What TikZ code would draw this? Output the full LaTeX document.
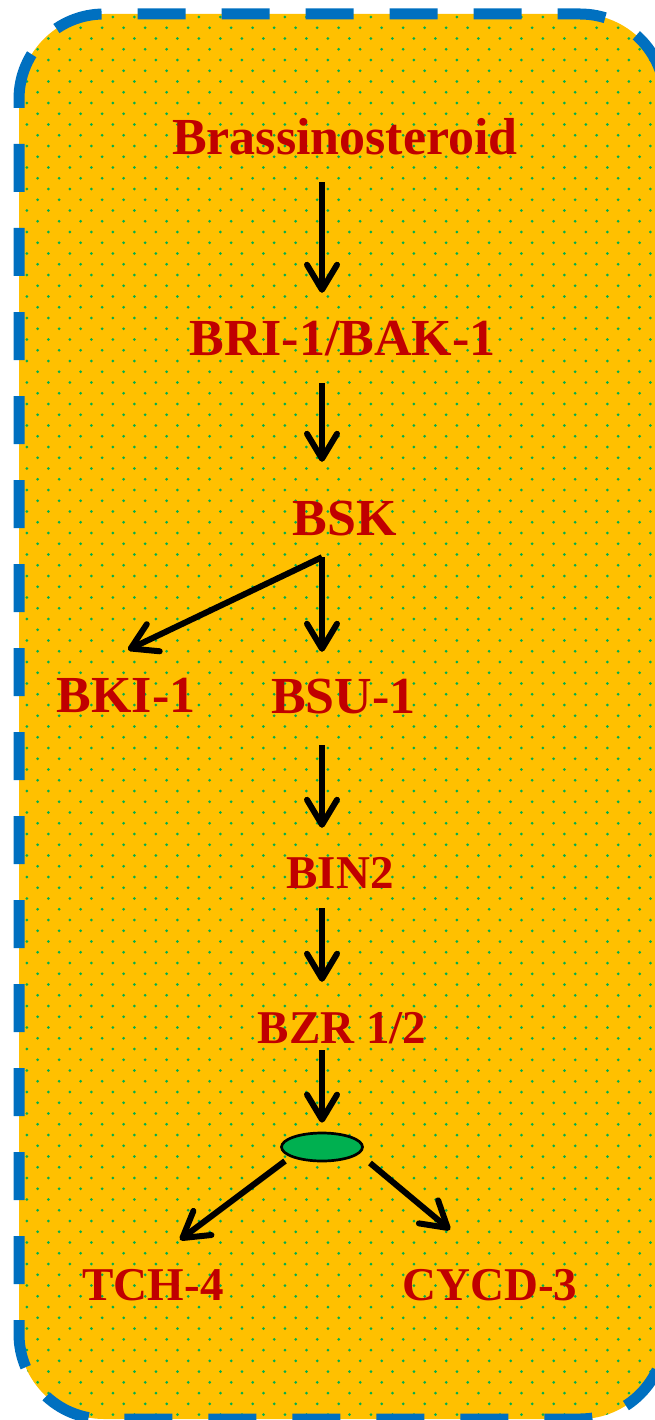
\documentclass[tikz,border=0pt]{standalone}
\usepackage{fontspec}
\setmainfont{Liberation Serif}
\usetikzlibrary{arrows.meta,calc,patterns,shapes.geometric}

\definecolor{panelyellow}{HTML}{FFC000}
\definecolor{dotgreen}{HTML}{00B050}
\definecolor{edgeblue}{HTML}{0070C0}
\definecolor{labelred}{HTML}{C00000}
\definecolor{nucleusgreen}{HTML}{00B050}

% staggered grid of small dots
\pgfdeclarepatternformonly{greendots}{\pgfpoint{-2pt}{-2pt}}{\pgfpoint{23.5pt}{23.5pt}}{\pgfpoint{21.5pt}{21.5pt}}{%
  \pgfpathcircle{\pgfpoint{5.4pt}{5.4pt}}{1.5pt}%
  \pgfpathcircle{\pgfpoint{16.15pt}{16.15pt}}{1.5pt}%
  \pgfusepath{fill}}

\tikzset{
  biglabel/.style={text=labelred, font=\bfseries\fontsize{52}{60}\selectfont,
    inner sep=0pt, anchor=base, text height=36pt, text depth=0pt},
  smalllabel/.style={text=labelred, font=\bfseries\fontsize{47}{56}\selectfont,
    inner sep=0pt, anchor=base, text height=33pt, text depth=0pt},
  arr/.style={line width=6pt, -{Straight Barb[length=25pt,width=30pt,round]}},
}

\begin{document}
\begin{tikzpicture}[x=1pt, y=-1pt]
\useasboundingbox (0,0) rectangle (655,1420);

% panel
\fill[panelyellow, rounded corners=85pt] (19,14) rectangle (665,1419);
\fill[pattern=greendots, pattern color=dotgreen, rounded corners=85pt] (19,14) rectangle (665,1419);
\draw[edgeblue, line width=11pt, dash pattern=on 48pt off 36pt, dash phase=39pt,
  rounded corners=85pt] (19,14) rectangle (665,1419);

% vertical axis of the cascade
\coordinate (axis) at (322,0);

% labels
\node[biglabel] (br)  at (345,155) {Brassinosteroid};
\node[biglabel] (bri) at (342.5,355) {BRI-1/BAK-1};
\node[biglabel] (bsk) at (345,535) {BSK};
\node[biglabel] (bki) at (126,712) {BKI-1};
\node[biglabel] (bsu) at (343.5,713) {BSU-1};
\node[smalllabel] (bin) at (340,888) {BIN2};
\node[smalllabel] (bzr) at (342,1043) {BZR 1/2};
\node[draw=black, line width=2.7pt, fill=nucleusgreen, ellipse,
  minimum width=81pt, minimum height=28pt, inner sep=0pt] (ell) at (322,1147) {};
\node[smalllabel] (tch) at (153,1300) {TCH-4};
\node[smalllabel] (cyc) at (490,1300) {CYCD-3};

% arrows
\draw[arr] ($(br.south -| axis)+(0,27)$) -- ($(bri.north -| axis)+(0,-26)$);
\draw[arr] ($(bri.south -| axis)+(0,28)$) -- ($(bsk.north -| axis)+(0,-37)$);
\draw[arr] ($(bsk.south -| axis)+(0,22)$) -- ($(bsu.north -| axis)+(0,-25)$);
\draw[arr] ($(bsk.south -| axis)+(0,22)$) -- ($(bki.north)+(2,-26)$);
\draw[arr] ($(bsu.south -| axis)+(0,32)$) -- ($(bin.north -| axis)+(0,-27)$);
\draw[arr] ($(bin.south -| axis)+(0,20)$) -- ($(bzr.north -| axis)+(0,-28)$);
\draw[arr] ($(bzr.south -| axis)+(0,7)$) -- ($(ell.north)+(0,-9)$);
\draw[arr] ($(ell)+(-37,14)$) -- ($(tch.north)+(27,-27)$);
\draw[arr] ($(ell)+(48,16)$) -- ($(cyc.north)+(-40,-37)$);
\end{tikzpicture}
\end{document}
